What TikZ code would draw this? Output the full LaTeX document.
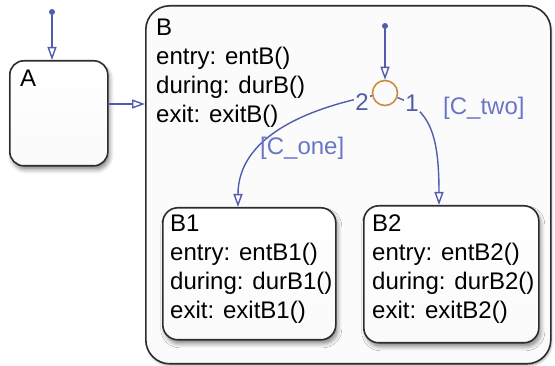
\documentclass[tikz,border=0pt]{standalone}
\usepackage{fontspec}
\setmainfont{Liberation Sans}
\usetikzlibrary{positioning, arrows.meta, shadows.blur}
\definecolor{transblue}{RGB}{82, 92, 172}
\definecolor{guardblue}{RGB}{105, 118, 200}
\definecolor{junc}{RGB}{208, 138, 62}
\definecolor{frame}{RGB}{45, 45, 45}

\begin{document}
\begin{tikzpicture}[x=1pt, y=-1pt,
    statebox/.style={
        draw=frame,
        line width=1.6pt,
        rounded corners=#1,
        anchor=north west,
        inner sep=0pt
    },
    statebox/.default=15pt,
    substate/.style={
        statebox=#1,
        top color=white,
        bottom color=gray!4,
        blur shadow={shadow xshift=2pt, shadow yshift=-4pt, shadow blur radius=4pt, shadow opacity=45}
    },
    substate/.default=15pt,
    acttext/.style={font=\fontsize{24}{29}\selectfont, align=left, inner sep=0pt},
    transarrow/.style={draw=transblue, line width=1.4pt, -{Triangle[open, length=13pt, width=9pt, fill=white]}},
    dot/.style={circle, fill=transblue, inner sep=0pt, minimum size=6pt},
    guardlbl/.style={font=\fontsize{24}{29}\selectfont, text=guardblue, inner sep=0pt, anchor=west},
    ordlbl/.style={font=\fontsize{24}{29}\selectfont, text=transblue, fill=gray!3, inner sep=1pt}
]
\useasboundingbox (0,0) rectangle (555,366);

% === B: parent state ===
\node[statebox=24pt, fill=gray!3, minimum width=405pt, minimum height=358pt,
      blur shadow={shadow xshift=1pt, shadow yshift=-2pt, shadow blur radius=2pt, shadow opacity=30}] (B) at (145,5) {};
\node[acttext, below right=14pt and 11pt of B.north west] (Btext) {B\\entry: entB()\\during: durB()\\exit: exitB()};

% === A ===
\node[substate=14pt, minimum width=98pt, minimum height=105pt] (A) at (9,60) {};
\node[acttext, below right=10pt and 11pt of A.north west] (Atext) {A};

% === B1, B2: substates ===
\node[substate, minimum width=173pt, minimum height=132pt] (B1) at (162,207) {};
\node[acttext, below right=8pt and 8pt of B1.north west] (B1text) {B1\\entry: entB1()\\during: durB1()\\exit: exitB1()};

\node[substate, minimum width=175pt, minimum height=137pt] (B2) at (363,205) {};
\node[acttext, below right=10pt and 9pt of B2.north west] (B2text) {B2\\entry: entB2()\\during: durB2()\\exit: exitB2()};

% === Junction ===
\node[circle, draw=junc, line width=1.6pt, minimum size=25pt, inner sep=0pt] (J) at (385,93) {};

% === Transitions ===
\node[dot] (dA) at (52,12) {};
\draw[transarrow] (dA) -- (dA |- A.north);
\draw[transarrow] (A.east |- 0,104) -- (B.west |- 0,104);

\node[dot] (dJ) at (385,26) {};
\draw[transarrow] (dJ) -- (J.north);

\draw[transarrow] (J.192) .. controls (300,110) and (238,140) .. (238,0 |- B1.north);
\draw[transarrow] (J.-20) .. controls (430,110) and (439,135) .. (439,0 |- B2.north);

% === Labels ===
\node[ordlbl] (o2) at (362,102) {2};
\node[ordlbl] (o1) at (412,103) {1};
\node[guardlbl] (g2) at (443,108) {[C\_two]};
\node[guardlbl] (g1) at (260,148) {[C\_one]};

\end{tikzpicture}
\end{document}
